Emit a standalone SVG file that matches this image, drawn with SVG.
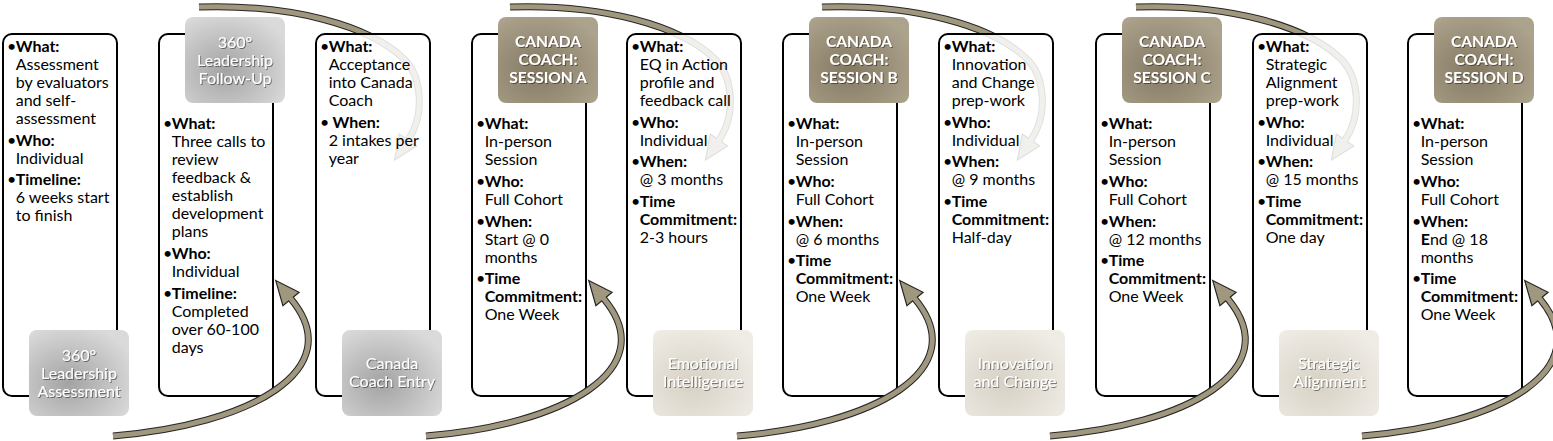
<svg xmlns="http://www.w3.org/2000/svg" xmlns:xlink="http://www.w3.org/1999/xlink" width="1553" height="441" viewBox="0 0 1553 441">
<defs>
<style>
.box{fill:#fff;stroke:#000;stroke-width:2}
.boxA{fill:#fff;fill-opacity:.86;stroke:#000;stroke-width:2}
.t{font-family:Lato,'Open Sans',sans-serif;font-size:16px;fill:#000}
.bd{font-weight:700}
.lb{font-family:Lato,'Open Sans',sans-serif;font-size:16px;fill:#fff;text-anchor:middle;filter:url(#ts)}
.lbb{font-weight:700;font-size:15.5px}
.ao{fill:none;stroke:#262626;stroke-width:7}
.ai{fill:none;stroke:#a0977f;stroke-width:5}
.hd{fill:#a0977f;stroke:#262626;stroke-width:1.2;stroke-linejoin:miter}
</style>
<filter id="ts" x="-10%" y="-30%" width="130%" height="160%">
<feDropShadow dx="1" dy="1" stdDeviation="0.6" flood-color="#000" flood-opacity="0.45"/>
</filter>
<radialGradient id="gGray" cx="40%" cy="62%" r="70%">
<stop offset="0" stop-color="#a3a3a3"/><stop offset="1" stop-color="#dadada"/>
</radialGradient>
<radialGradient id="gTan" cx="40%" cy="62%" r="70%">
<stop offset="0" stop-color="#847861"/><stop offset="1" stop-color="#aca38d"/>
</radialGradient>
<radialGradient id="gBeige" cx="40%" cy="62%" r="70%">
<stop offset="0" stop-color="#d7d1c4"/><stop offset="1" stop-color="#efece6"/>
</radialGradient>
<g id="arB">
<polygon class="hd" points="275.7,280.5 299.1,292.3 282.9,305.7"/>
<path class="ao" d="M113,436 C250,425 350,370 291,299"/>
<path class="ai" d="M113,436 C250,425 350,370 291,299 L289.7,297.5"/>
</g>
<g id="arT">
<polygon class="hd" points="394.5,159.9 416.7,145.9 399.3,134.1"/>
<path class="ao" d="M199,7 C290,4 370,25 405,60 C422,78 425,115 408,140"/>
<path class="ai" d="M199,7 C290,4 370,25 405,60 C422,78 425,115 408,140 L406.9,141.7"/>
</g>
</defs>

<!-- B boxes (labels on top) -->
<g id="node2" transform="translate(159,0)">
<rect class="box" x="0" y="34" width="114" height="362" rx="9"/>
<rect x="26" y="17" width="100" height="86" rx="8" fill="url(#gGray)"/>
<text class="lb"><tspan x="76" y="47.7">360°</tspan><tspan x="76" y="66">Leadership</tspan><tspan x="76" y="84">Follow-Up</tspan></text>
<text class="t">
<tspan x="4" y="129.3">•</tspan><tspan x="12.7" class="bd">What:</tspan>
<tspan x="12.7" y="147.3">Three calls to</tspan>
<tspan x="12.7" y="165.3">review</tspan>
<tspan x="12.7" y="183.3">feedback &amp;</tspan>
<tspan x="12.7" y="201.3">establish</tspan>
<tspan x="12.7" y="219.3">development</tspan>
<tspan x="12.7" y="237.3">plans</tspan>
<tspan x="4" y="259">•</tspan><tspan x="12.7" class="bd">Who:</tspan>
<tspan x="12.7" y="277">Individual</tspan>
<tspan x="4" y="298.7">•</tspan><tspan x="12.7" class="bd">Timeline:</tspan>
<tspan x="12.7" y="316.7">Completed</tspan>
<tspan x="12.7" y="334.7">over 60-100</tspan>
<tspan x="12.7" y="352.7">days</tspan>
</text>
</g>

<g id="node4" transform="translate(472,0)">
<rect class="box" x="0" y="34" width="114" height="362" rx="9"/>
<rect x="26" y="17" width="100" height="86" rx="8" fill="url(#gTan)"/>
<text class="lb lbb"><tspan x="76" y="47">CANADA</tspan><tspan x="76" y="65">COACH:</tspan><tspan x="76" y="83">SESSION A</tspan></text>
<text class="t">
<tspan x="4" y="129.3">•</tspan><tspan x="12.7" class="bd">What:</tspan>
<tspan x="12.7" y="147.3">In-person</tspan>
<tspan x="12.7" y="165.3">Session</tspan>
<tspan x="4" y="187">•</tspan><tspan x="12.7" class="bd">Who:</tspan>
<tspan x="12.7" y="205">Full Cohort</tspan>
<tspan x="4" y="226.7">•</tspan><tspan x="12.7" class="bd">When:</tspan>
<tspan x="12.7" y="244.7">Start @ 0</tspan>
<tspan x="12.7" y="262.7">months</tspan>
<tspan x="4" y="284.4">•</tspan><tspan x="12.7" class="bd">Time</tspan>
<tspan x="12.7" y="302.4" class="bd">Commitment:</tspan>
<tspan x="12.7" y="320.4">One Week</tspan>
</text>
</g>

<g id="node6" transform="translate(783,0)">
<rect class="box" x="0" y="34" width="114" height="362" rx="9"/>
<rect x="26" y="17" width="100" height="86" rx="8" fill="url(#gTan)"/>
<text class="lb lbb"><tspan x="76" y="47">CANADA</tspan><tspan x="76" y="65">COACH:</tspan><tspan x="76" y="83">SESSION B</tspan></text>
<text class="t">
<tspan x="4" y="129.3">•</tspan><tspan x="12.7" class="bd">What:</tspan>
<tspan x="12.7" y="147.3">In-person</tspan>
<tspan x="12.7" y="165.3">Session</tspan>
<tspan x="4" y="187">•</tspan><tspan x="12.7" class="bd">Who:</tspan>
<tspan x="12.7" y="205">Full Cohort</tspan>
<tspan x="4" y="226.7">•</tspan><tspan x="12.7" class="bd">When:</tspan>
<tspan x="12.7" y="244.7">@ 6 months</tspan>
<tspan x="4" y="266.4">•</tspan><tspan x="12.7" class="bd">Time</tspan>
<tspan x="12.7" y="284.4" class="bd">Commitment:</tspan>
<tspan x="12.7" y="302.4">One Week</tspan>
</text>
</g>

<g id="node8" transform="translate(1096,0)">
<rect class="box" x="0" y="34" width="114" height="362" rx="9"/>
<rect x="26" y="17" width="100" height="86" rx="8" fill="url(#gTan)"/>
<text class="lb lbb"><tspan x="76" y="47">CANADA</tspan><tspan x="76" y="65">COACH:</tspan><tspan x="76" y="83">SESSION C</tspan></text>
<text class="t">
<tspan x="4" y="129.3">•</tspan><tspan x="12.7" class="bd">What:</tspan>
<tspan x="12.7" y="147.3">In-person</tspan>
<tspan x="12.7" y="165.3">Session</tspan>
<tspan x="4" y="187">•</tspan><tspan x="12.7" class="bd">Who:</tspan>
<tspan x="12.7" y="205">Full Cohort</tspan>
<tspan x="4" y="226.7">•</tspan><tspan x="12.7" class="bd">When:</tspan>
<tspan x="12.7" y="244.7">@ 12 months</tspan>
<tspan x="4" y="266.4">•</tspan><tspan x="12.7" class="bd">Time</tspan>
<tspan x="12.7" y="284.4" class="bd">Commitment:</tspan>
<tspan x="12.7" y="302.4">One Week</tspan>
</text>
</g>

<g id="node10" transform="translate(1408,0)">
<rect class="box" x="0" y="34" width="114" height="362" rx="9"/>
<rect x="26" y="17" width="100" height="86" rx="8" fill="url(#gTan)"/>
<text class="lb lbb"><tspan x="76" y="47">CANADA</tspan><tspan x="76" y="65">COACH:</tspan><tspan x="76" y="83">SESSION D</tspan></text>
<text class="t">
<tspan x="4" y="129.3">•</tspan><tspan x="12.7" class="bd">What:</tspan>
<tspan x="12.7" y="147.3">In-person</tspan>
<tspan x="12.7" y="165.3">Session</tspan>
<tspan x="4" y="187">•</tspan><tspan x="12.7" class="bd">Who:</tspan>
<tspan x="12.7" y="205">Full Cohort</tspan>
<tspan x="4" y="226.7">•</tspan><tspan x="12.7" class="bd">When:</tspan>
<tspan x="12.7" y="244.7"><tspan class="bd">E</tspan>nd @ 18</tspan>
<tspan x="12.7" y="262.7">months</tspan>
<tspan x="4" y="284.4">•</tspan><tspan x="12.7" class="bd">Time</tspan>
<tspan x="12.7" y="302.4" class="bd">Commitment:</tspan>
<tspan x="12.7" y="320.4">One Week</tspan>
</text>
</g>

<!-- connectors -->
<g id="connectors">
<use xlink:href="#arB" href="#arB"/>
<use xlink:href="#arB" href="#arB" transform="translate(313,0)"/>
<use xlink:href="#arB" href="#arB" transform="translate(624,0)"/>
<use xlink:href="#arB" href="#arB" transform="translate(937,0)"/>
<use xlink:href="#arB" href="#arB" transform="translate(1249,0)"/>
<use xlink:href="#arT" href="#arT"/>
<use xlink:href="#arT" href="#arT" transform="translate(311,0)"/>
<use xlink:href="#arT" href="#arT" transform="translate(623,0)"/>
<use xlink:href="#arT" href="#arT" transform="translate(937,0)"/>
</g>

<!-- A boxes (labels at bottom) -->
<g id="node1" transform="translate(3,0)">
<rect class="boxA" x="0" y="34" width="114" height="362" rx="9"/>
<rect x="26" y="330" width="100" height="86" rx="8" fill="url(#gGray)"/>
<text class="lb"><tspan x="76" y="361">360°</tspan><tspan x="76" y="379">Leadership</tspan><tspan x="76" y="397">Assessment</tspan></text>
<text class="t">
<tspan x="4" y="52">•</tspan><tspan x="12.7" class="bd">What:</tspan>
<tspan x="12.7" y="70">Assessment</tspan>
<tspan x="12.7" y="88">by evaluators</tspan>
<tspan x="12.7" y="106">and self-</tspan>
<tspan x="12.7" y="124">assessment</tspan>
<tspan x="4" y="145.7">•</tspan><tspan x="12.7" class="bd">Who:</tspan>
<tspan x="12.7" y="163.7">Individual</tspan>
<tspan x="4" y="185.4">•</tspan><tspan x="12.7" class="bd">Timeline:</tspan>
<tspan x="12.7" y="203.4">6 weeks start</tspan>
<tspan x="12.7" y="221.4">to finish</tspan>
</text>
</g>

<g id="node3" transform="translate(316,0)">
<rect class="boxA" x="0" y="34" width="114" height="362" rx="9"/>
<rect x="26" y="330" width="100" height="86" rx="8" fill="url(#gGray)"/>
<text class="lb"><tspan x="76" y="369">Canada</tspan><tspan x="76" y="387">Coach Entry</tspan></text>
<text class="t">
<tspan x="4" y="52">•</tspan><tspan x="12.7" class="bd">What:</tspan>
<tspan x="12.7" y="70">Acceptance</tspan>
<tspan x="12.7" y="88">into Canada</tspan>
<tspan x="12.7" y="106">Coach</tspan>
<tspan x="4" y="127.7">•</tspan><tspan x="16.5" class="bd">When:</tspan>
<tspan x="12.7" y="145.7">2 intakes per</tspan>
<tspan x="12.7" y="163.7">year</tspan>
</text>
</g>

<g id="node5" transform="translate(627,0)">
<rect class="boxA" x="0" y="34" width="114" height="362" rx="9"/>
<rect x="26" y="330" width="100" height="86" rx="8" fill="url(#gBeige)"/>
<text class="lb"><tspan x="76" y="369">Emotional</tspan><tspan x="76" y="387">Intelligence</tspan></text>
<text class="t">
<tspan x="4" y="52">•</tspan><tspan x="12.7" class="bd">What:</tspan>
<tspan x="12.7" y="70">EQ in Action</tspan>
<tspan x="12.7" y="88">profile and</tspan>
<tspan x="12.7" y="106">feedback call</tspan>
<tspan x="4" y="127.7">•</tspan><tspan x="12.7" class="bd">Who:</tspan>
<tspan x="12.7" y="145.7">Individual</tspan>
<tspan x="4" y="167.4">•</tspan><tspan x="12.7" class="bd">When:</tspan>
<tspan x="12.7" y="185.4">@ 3 months</tspan>
<tspan x="4" y="207.1">•</tspan><tspan x="12.7" class="bd">Time</tspan>
<tspan x="12.7" y="225.1" class="bd">Commitment:</tspan>
<tspan x="12.7" y="243.1">2-3 hours</tspan>
</text>
</g>

<g id="node7" transform="translate(939,0)">
<rect class="boxA" x="0" y="34" width="114" height="362" rx="9"/>
<rect x="26" y="330" width="100" height="86" rx="8" fill="url(#gBeige)"/>
<text class="lb"><tspan x="76" y="369">Innovation</tspan><tspan x="76" y="387">and Change</tspan></text>
<text class="t">
<tspan x="4" y="52">•</tspan><tspan x="12.7" class="bd">What:</tspan>
<tspan x="12.7" y="70">Innovation</tspan>
<tspan x="12.7" y="88">and Change</tspan>
<tspan x="12.7" y="106">prep-work</tspan>
<tspan x="4" y="127.7">•</tspan><tspan x="12.7" class="bd">Who:</tspan>
<tspan x="12.7" y="145.7">Individual</tspan>
<tspan x="4" y="167.4">•</tspan><tspan x="12.7" class="bd">When:</tspan>
<tspan x="12.7" y="185.4">@ 9 months</tspan>
<tspan x="4" y="207.1">•</tspan><tspan x="12.7" class="bd">Time</tspan>
<tspan x="12.7" y="225.1" class="bd">Commitment:</tspan>
<tspan x="12.7" y="243.1">Half-day</tspan>
</text>
</g>

<g id="node9" transform="translate(1253,0)">
<rect class="boxA" x="0" y="34" width="114" height="362" rx="9"/>
<rect x="26" y="330" width="100" height="86" rx="8" fill="url(#gBeige)"/>
<text class="lb"><tspan x="76" y="369">Strategic</tspan><tspan x="76" y="387">Alignment</tspan></text>
<text class="t">
<tspan x="4" y="52">•</tspan><tspan x="12.7" class="bd">What:</tspan>
<tspan x="12.7" y="70">Strategic</tspan>
<tspan x="12.7" y="88">Alignment</tspan>
<tspan x="12.7" y="106">prep-work</tspan>
<tspan x="4" y="127.7">•</tspan><tspan x="12.7" class="bd">Who:</tspan>
<tspan x="12.7" y="145.7">Individual</tspan>
<tspan x="4" y="167.4">•</tspan><tspan x="12.7" class="bd">When:</tspan>
<tspan x="12.7" y="185.4">@ 15 months</tspan>
<tspan x="4" y="207.1">•</tspan><tspan x="12.7" class="bd">Time</tspan>
<tspan x="12.7" y="225.1" class="bd">Commitment:</tspan>
<tspan x="12.7" y="243.1">One day</tspan>
</text>
</g>
</svg>
